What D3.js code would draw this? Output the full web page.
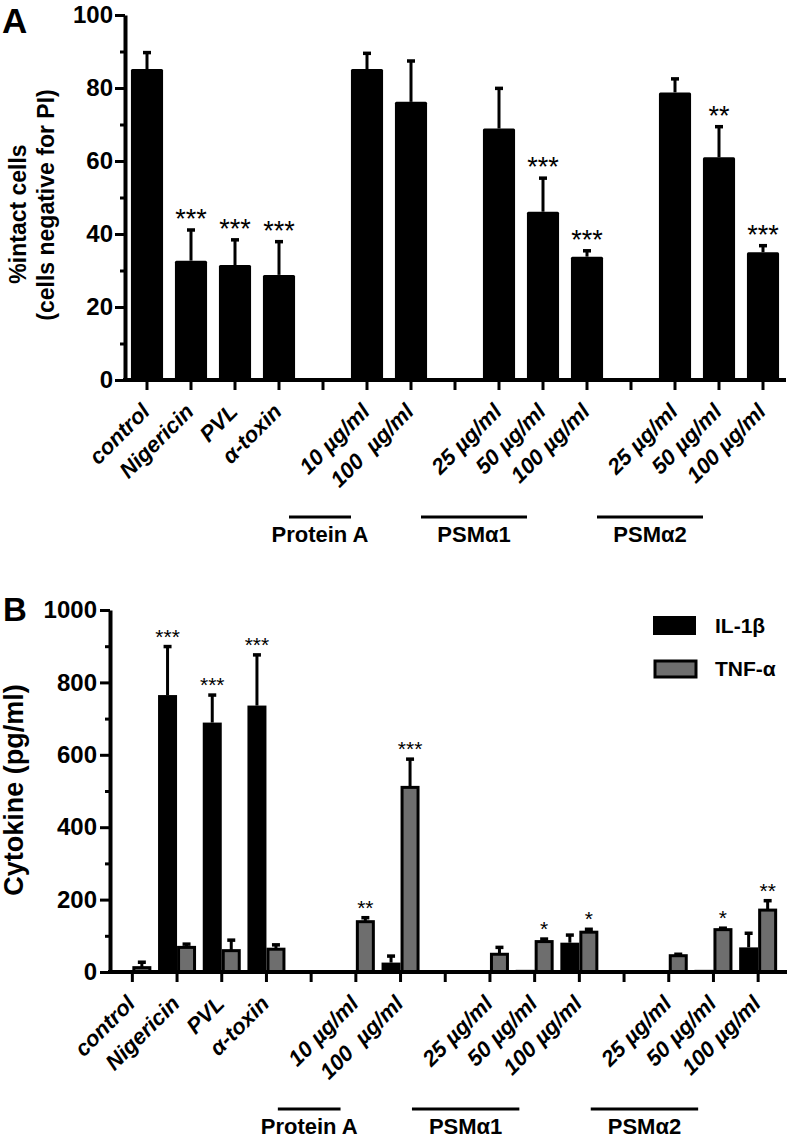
<!DOCTYPE html>
<html><head><meta charset="utf-8">
<script src="https://cdn.jsdelivr.net/npm/d3@7"></script>
<style>
body{margin:0;background:#fff}
svg{display:block}
text{font-family:"Liberation Sans",Arial,sans-serif;font-weight:bold;fill:#000;white-space:pre}
</style>
</head><body>
<svg id="c" width="788" height="1140"></svg>
<script>
// ---------- data ----------
const categories = ["control","Nigericin","PVL","α-toxin","","10 µg/ml","100  µg/ml","","25 µg/ml","50 µg/ml","100 µg/ml","","25 µg/ml","50 µg/ml","100 µg/ml"];
const groupNames = ["Protein A","PSMα1","PSMα2"];
const groupFirst = [5, 8, 12];
const groupLast  = [6, 10, 14];

const intactCells = [85.2, 32.7, 31.5, 28.8, null, 85.2, 76.2, null, 68.9, 46.1, 33.8, null, 78.8, 61.0, 35.0];
const intactErr   = [4.5, 8.4, 6.9, 9.1, null, 4.3, 11.2, null, 11.0, 9.2, 1.6, null, 3.7, 8.4, 1.8];
const intactStars = ["","***","***","***","","","","","","***","***","","","**","***"];

const il1b      = [2, 765, 689, 736, null, 3, 26, null, 0, 6, 81, null, 2, 6, 68];
const il1bErr   = [0, 134, 76, 140, null, 0, 18, null, 0, 0, 21, null, 0, 0, 39];
const il1bStars = ["","***","***","***","","","","","","","","","","",""];
const tnf       = [12, 68, 59, 63, null, 139, 510, null, 49, 84, 110, null, 45, 117, 171];
const tnfErr    = [15, 9, 29, 12, null, 11, 78, null, 19, 7, 8, null, 4, 4, 26];
const tnfStars  = ["","","","","","**","***","","","*","*","","","*","**"];

const seriesNames = ["IL-1β","TNF-α"];
const yTicksA = [0,20,40,60,80,100];
const yMinorA = [10,30,50,70,90];
const yTicksB = [0,200,400,600,800,1000];
const yMinorB = [100,300,500,700,900];

// ---------- drawing ----------
const svg = d3.select("#c");
const idx = d3.range(categories.length);
const GRAY = "#6e6e6e";

function styleAxis(g, w){
  g.select(".domain").attr("stroke","#000").attr("stroke-width",w);
  g.selectAll(".tick line").attr("stroke","#000").attr("stroke-width",3);
}

function xLabels(g){
  g.selectAll(".tick text")
    .attr("x",0).attr("y",0).attr("dy",0)
    .attr("text-anchor","end")
    .attr("transform","translate(4,33) rotate(-45)")
    .style("font-size","22px").style("font-style","italic");
}

function groupBars(x, yBase){
  groupNames.forEach((name,k)=>{
    const x1 = x(groupFirst[k]) + x.bandwidth()/2 - 78;
    const x2 = x(groupLast[k]) + x.bandwidth()/2 - 60;
    svg.append("line").attr("x1",x1).attr("x2",x2).attr("y1",yBase+137).attr("y2",yBase+137)
      .attr("stroke","#000").attr("stroke-width",3);
    svg.append("text").attr("x",(x1+x2)/2).attr("y",yBase+162).attr("text-anchor","middle")
      .style("font-size","22px").text(name);
  });
}

// ===== Panel A =====
const yA = d3.scaleLinear().domain([0,100]).range([380,15]);
const xA = d3.scaleBand().domain(idx).range([125,785]).paddingInner(0.27).paddingOuter(0.135);

svg.append("text").attr("x",2).attr("y",33).style("font-size","35px").text("A");

svg.append("g").attr("transform","translate(18,214) rotate(-90)")
  .append("text").attr("text-anchor","middle").attr("dy","0.35em").style("font-size","23px").text("%intact cells");
svg.append("g").attr("transform","translate(46,205) rotate(-90)")
  .append("text").attr("text-anchor","middle").attr("dy","0.35em").style("font-size","23px").text("(cells negative for PI)");

svg.append("g").selectAll("rect").data(idx.filter(i=>intactCells[i]!=null)).join("rect")
  .attr("x",i=>xA(i)).attr("width",xA.bandwidth())
  .attr("y",i=>yA(intactCells[i])).attr("height",i=>yA(0)-yA(intactCells[i]))
  .attr("fill","#000").attr("rx",1.5);

const eA = svg.append("g").selectAll("g").data(idx.filter(i=>intactCells[i]!=null)).join("g");
eA.append("line").attr("x1",i=>xA(i)+xA.bandwidth()/2).attr("x2",i=>xA(i)+xA.bandwidth()/2)
  .attr("y1",i=>yA(intactCells[i])).attr("y2",i=>yA(intactCells[i]+intactErr[i]))
  .attr("stroke","#000").attr("stroke-width",3);
eA.append("line").attr("x1",i=>xA(i)+xA.bandwidth()/2-4).attr("x2",i=>xA(i)+xA.bandwidth()/2+4)
  .attr("y1",i=>yA(intactCells[i]+intactErr[i])).attr("y2",i=>yA(intactCells[i]+intactErr[i]))
  .attr("stroke","#000").attr("stroke-width",3.5);

svg.append("g").selectAll("text").data(idx.filter(i=>intactStars[i])).join("text")
  .attr("x",i=>xA(i)+xA.bandwidth()/2).attr("y",i=>yA(intactCells[i]+intactErr[i])-2)
  .attr("text-anchor","middle").style("font-size","27px").style("font-weight","normal")
  .text(i=>intactStars[i]);

const gyA = svg.append("g").attr("transform","translate(125,0)")
  .call(d3.axisLeft(yA).tickValues(yTicksA).tickSize(10).tickSizeOuter(0).tickPadding(2).tickFormat(d3.format("d")));
styleAxis(gyA,4);
gyA.selectAll(".tick text").style("font-size","24px");
const gyAm = svg.append("g").attr("transform","translate(125,0)")
  .call(d3.axisLeft(yA).tickValues(yMinorA).tickSize(5).tickFormat(""));
gyAm.select(".domain").remove(); gyAm.selectAll(".tick line").attr("stroke","#000").attr("stroke-width",3);

const gxA = svg.append("g").attr("transform","translate(0,380)")
  .call(d3.axisBottom(xA).tickSize(10).tickSizeOuter(0).tickFormat(i=>categories[i]));
styleAxis(gxA,4); xLabels(gxA);
gxA.select(".domain").attr("d","M123,0H786");
groupBars(xA,380);

// ===== Panel B =====
const yB = d3.scaleLinear().domain([0,1000]).range([972,610]);
const xB = d3.scaleBand().domain(idx).range([110,780.5]);
const xSub = d3.scaleBand().domain(seriesNames).range([xB.bandwidth()/2-19, xB.bandwidth()/2+19]);

svg.append("text").attr("x",3).attr("y",621).style("font-size","33px").text("B");
svg.append("g").attr("transform","translate(14,790) rotate(-90)")
  .append("text").attr("text-anchor","middle").attr("dy","0.35em").style("font-size","27px").text("Cytokine (pg/ml)");

const series = [
  {name:seriesNames[0], v:il1b, e:il1bErr, s:il1bStars},
  {name:seriesNames[1], v:tnf, e:tnfErr, s:tnfStars}
];
series.forEach((S,k)=>{
  const ids = idx.filter(i=>S.v[i]!=null);
  const g = svg.append("g");
  g.selectAll("rect").data(ids).join("rect")
    .attr("x",i=>xB(i)+xSub(S.name)+(k?1.5:0)).attr("width",xSub.bandwidth()-(k?3:0))
    .attr("y",i=>yB(S.v[i])).attr("height",i=>Math.max(0,yB(0)-yB(S.v[i])))
    .attr("fill",k?GRAY:"#000").attr("stroke",k?"#000":"none").attr("stroke-width",3);
  const cx = i=>xB(i)+xSub(S.name)+xSub.bandwidth()/2;
  const ei = ids.filter(i=>S.e[i]>0);
  g.selectAll("line.v").data(ei).join("line").attr("class","v")
    .attr("x1",cx).attr("x2",cx).attr("y1",i=>yB(S.v[i])).attr("y2",i=>yB(S.v[i]+S.e[i]))
    .attr("stroke","#000").attr("stroke-width",3);
  g.selectAll("line.c").data(ei).join("line").attr("class","c")
    .attr("x1",i=>cx(i)-4).attr("x2",i=>cx(i)+4).attr("y1",i=>yB(S.v[i]+S.e[i])).attr("y2",i=>yB(S.v[i]+S.e[i]))
    .attr("stroke","#000").attr("stroke-width",3.5);
  g.selectAll("text").data(ids.filter(i=>S.s[i])).join("text")
    .attr("x",cx).attr("y",i=>yB(S.v[i]+S.e[i])-3).attr("text-anchor","middle")
    .style("font-size","21px").style("font-weight","normal").text(i=>S.s[i]);
});

const gyB = svg.append("g").attr("transform","translate(110,0)")
  .call(d3.axisLeft(yB).tickValues(yTicksB).tickSize(10).tickSizeOuter(0).tickPadding(3).tickFormat(d3.format("d")));
styleAxis(gyB,4);
gyB.selectAll(".tick text").style("font-size","24px");
const gyBm = svg.append("g").attr("transform","translate(110,0)")
  .call(d3.axisLeft(yB).tickValues(yMinorB).tickSize(5).tickFormat(""));
gyBm.select(".domain").remove(); gyBm.selectAll(".tick line").attr("stroke","#000").attr("stroke-width",3);

const gxB = svg.append("g").attr("transform","translate(0,972)")
  .call(d3.axisBottom(xB).tickSize(10).tickSizeOuter(0).tickFormat(i=>categories[i]));
styleAxis(gxB,4); xLabels(gxB);
gxB.select(".domain").attr("d","M108,0H787");
groupBars(xB,972);

// legend
const lg = svg.append("g");
seriesNames.forEach((n,k)=>{
  const y = 626 + k*43;
  lg.append("rect").attr("x",k?655:653).attr("y",k?y-8:y-10).attr("width",k?41:43).attr("height",k?16:19)
    .attr("fill",k?GRAY:"#000").attr("stroke",k?"#000":"none").attr("stroke-width",3);
  lg.append("text").attr("x",715).attr("y",y).attr("dy","0.35em").style("font-size","21px").text(n);
});
</script>
</body></html>
